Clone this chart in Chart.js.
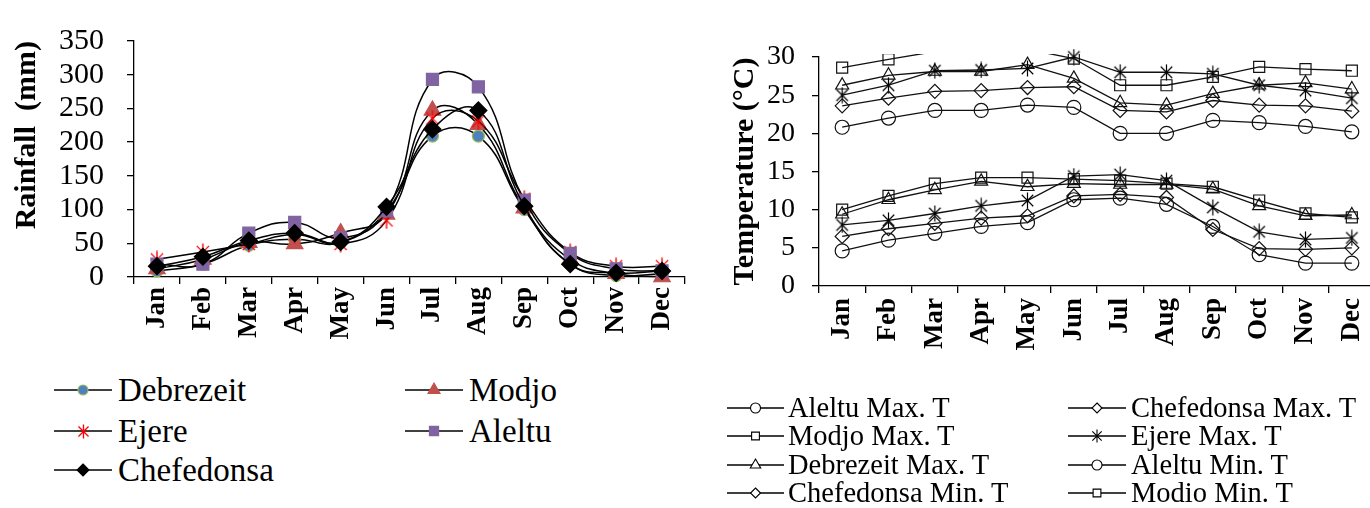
<!DOCTYPE html>
<html>
<head>
<meta charset="utf-8">
<script src="https://cdn.jsdelivr.net/npm/chart.js@4.4.1/dist/chart.umd.min.js"></script>
<style>
html,body{margin:0;padding:0;background:#fff;overflow:hidden;}
#wrap{position:relative;width:1370px;height:508px;overflow:hidden;background:#fff;font-family:"Liberation Serif","Times New Roman",Times,serif;color:#000;}
.box{position:absolute;}
.leg{position:absolute;display:flex;align-items:center;white-space:nowrap;line-height:1;font-family:"Liberation Serif","Times New Roman",Times,serif;}
.leg canvas{display:block;flex:none;}
</style>
</head>
<body>
<div id="wrap">
  <div class="box" style="left:0;top:0;"><canvas id="rain" width="700" height="372" style="width:700px;height:372px"></canvas></div>
  <div class="box" style="left:700px;top:0;"><canvas id="temp" width="690" height="395" style="width:690px;height:395px"></canvas></div>
  <div id="legends"></div>
</div>
<script>
// ---------- DATA ----------
const months = ['Jan','Feb','Mar','Apr','May','Jun','Jul','Aug','Sep','Oct','Nov','Dec'];
const rainTicks = [0,50,100,150,200,250,300,350];
const tempTicks = [0,5,10,15,20,25,30];

const rainDebrezeit  = [9, 19, 47, 56, 51, 98, 209, 209, 100, 19, 2, 5];
const rainModjo      = [12, 26, 51, 49, 65, 93, 247, 226, 102, 26, 5, 0];
const rainEjere      = [26, 37, 49, 63, 49, 84, 235, 231, 116, 37, 16, 16];
const rainAleltu     = [19, 19, 65, 81, 58, 98, 293, 282, 114, 35, 12, 9];
const rainChefedonsa = [16, 30, 54, 65, 52, 104, 219, 247, 105, 19, 6, 9];

const aleltuMax     = [20.8, 22.0, 23.0, 23.0, 23.7, 23.4, 20.0, 20.0, 21.7, 21.4, 20.9, 20.2];
const chefedonsaMax = [23.6, 24.6, 25.5, 25.6, 26.0, 26.1, 23.0, 22.8, 24.3, 23.7, 23.6, 22.9];
const modjoMax      = [28.6, 29.7, 30.7, 31.0, 31.0, 29.8, 26.3, 26.3, 27.4, 28.7, 28.4, 28.2];
const ejereMax      = [25.0, 26.3, 28.2, 28.3, 28.5, 30.0, 28.0, 28.0, 27.8, 26.3, 25.6, 24.6];
const debrezeitMax  = [26.3, 27.6, 28.1, 28.1, 29.0, 27.2, 24.0, 23.7, 25.2, 26.3, 26.6, 25.8];
const aleltuMin     = [4.6, 6.0, 6.9, 7.8, 8.3, 11.3, 11.5, 10.7, 7.8, 4.1, 3.0, 3.0];
const chefedonsaMin = [6.5, 7.5, 8.2, 8.9, 9.2, 11.8, 12.0, 11.6, 7.4, 4.9, 4.8, 5.0];
const modjoMin      = [10.0, 11.8, 13.4, 14.2, 14.2, 14.0, 13.8, 13.4, 13.0, 11.2, 9.5, 9.0];
const ejereMin      = [8.0, 8.6, 9.5, 10.5, 11.2, 14.4, 14.6, 13.8, 10.3, 7.1, 6.1, 6.3];
const debrezeitMin  = [9.4, 11.3, 12.6, 13.7, 13.0, 13.4, 13.3, 13.3, 12.7, 10.5, 9.2, 9.3];

// ---------- STYLE ----------
const FONT = '"Liberation Serif","Times New Roman",Times,serif';

function makeAsterisk(size, color, lw) {
  const c = document.createElement('canvas');
  c.width = size; c.height = size;
  const g = c.getContext('2d');
  g.strokeStyle = color; g.lineWidth = lw; g.lineCap = 'butt';
  const h = size / 2, a = size / 2 - 0.5, d = a * 0.72;
  g.beginPath();
  g.moveTo(h, h - a); g.lineTo(h, h + a);
  g.moveTo(h - d, h - d); g.lineTo(h + d, h + d);
  g.moveTo(h - d, h + d); g.lineTo(h + d, h - d);
  g.stroke();
  return c;
}
const starRed = makeAsterisk(18, '#FF0000', 1.4);
const starBlack = makeAsterisk(17, '#000000', 1.2);
const starRedSmall = makeAsterisk(15, '#FF0000', 1.3);
const starBlackSmall = makeAsterisk(14, '#000000', 1.1);

const rainSeries = [
  {label:'Debrezeit',  data:rainDebrezeit,  style:'circle',   r:6,   bg:'#4F81BD', bd:'#9BBB59', order:5, legR:5,  legStyle:'circle'},
  {label:'Modjo',      data:rainModjo,      style:'triangle', r:9.5, bg:'#C0504D', bd:'#C0504D', order:4, legR:7,  legStyle:'triangle'},
  {label:'Ejere',      data:rainEjere,      style:starRed,    r:8,   bg:'#FF0000', bd:'#FF0000', order:3, legR:7,  legStyle:starRedSmall},
  {label:'Aleltu',     data:rainAleltu,     style:'rect',     r:8.5, bg:'#8064A2', bd:'#8064A2', order:2, legR:6.5,legStyle:'rect'},
  {label:'Chefedonsa', data:rainChefedonsa, style:'rectRot',  r:8.5, bg:'#000000', bd:'#000000', order:1, legR:6,  legStyle:'rectRot'}
];

const tempSeries = [
  {label:'Aleltu Max. T',     data:aleltuMax,     style:'circle',   r:7,   legStyle:'circle',   legR:5},
  {label:'Chefedonsa Max. T', data:chefedonsaMax, style:'rectRot',  r:7,   legStyle:'rectRot',  legR:5},
  {label:'Modjo Max. T',      data:modjoMax,      style:'rect',     r:7.8, legStyle:'rect',     legR:5.5},
  {label:'Ejere Max. T',      data:ejereMax,      style:starBlack,  r:8,   legStyle:starBlackSmall, legR:7},
  {label:'Debrezeit Max. T',  data:debrezeitMax,  style:'triangle', r:7.5, legStyle:'triangle', legR:6},
  {label:'Aleltu Min. T',     data:aleltuMin,     style:'circle',   r:7,   legStyle:'circle',   legR:5},
  {label:'Chefedonsa Min. T', data:chefedonsaMin, style:'rectRot',  r:7,   legStyle:'rectRot',  legR:5},
  {label:'Modio Min. T',      data:modjoMin,      style:'rect',     r:7.8, legStyle:'rect',     legR:5.5},
  {label:'Ejere Min. T',      data:ejereMin,      style:starBlack,  r:8,   legStyle:starBlackSmall, legR:7, hidden:true},
  {label:'Debrezeit Min. T',  data:debrezeitMin,  style:'triangle', r:7.5, legStyle:'triangle', legR:6, hidden:true}
];

// ---------- LEFT CHART ----------
const rainChart = new Chart(document.getElementById('rain'), {
  type: 'line',
  data: {
    labels: months,
    datasets: rainSeries.map(s => ({
      label: s.label, data: s.data, order: s.order,
      borderColor: '#000', borderWidth: 1.5, tension: 0.45, fill: false, clip: false,
      pointStyle: s.style, pointRadius: s.r, pointHoverRadius: s.r,
      pointBackgroundColor: s.bg, pointBorderColor: s.bd, pointBorderWidth: 1.2
    }))
  },
  options: {
    responsive: false, animation: false, events: [],
    layout: {padding: {left: 0, right: 15, top: 26, bottom: 0}},
    plugins: {legend: {display: false}, tooltip: {enabled: false}},
    scales: {
      x: {
        type: 'category', offset: true,
        grid: {offset: true, drawOnChartArea: false, drawTicks: true, tickLength: 7, color: '#000', lineWidth: 1.3},
        border: {color: '#000', width: 1.3},
        ticks: {color: '#000', autoSkip: false, maxRotation: 90, minRotation: 90, padding: 3,
                font: {family: FONT, size: 27, weight: 'bold'}},
        afterFit(s) { s.height = 372 - 277; }
      },
      y: {
        min: 0, max: 350,
        afterBuildTicks(s) { s.ticks = rainTicks.map(v => ({value: v})); },
        grid: {drawOnChartArea: false, drawTicks: true, tickLength: 7, color: '#000', lineWidth: 1.3},
        border: {color: '#000', width: 1.3},
        ticks: {color: '#000', autoSkip: false, padding: 23, font: {family: FONT, size: 30}},
        title: {display: true, text: 'Rainfall  (mm)', align: 'end', color: '#000',
                font: {family: FONT, size: 30, weight: 'bold'}, padding: {top: 9, bottom: 0}},
        afterFit(s) { s.width = 134; }
      }
    }
  }
});

// ---------- RIGHT CHART ----------
const tempChart = new Chart(document.getElementById('temp'), {
  type: 'line',
  data: {
    labels: months,
    datasets: tempSeries.map(s => ({
      label: s.label, data: s.data,
      borderColor: '#111', borderWidth: 1.3, tension: 0, fill: false,
      clip: s.data === modjoMax ? {left: 10, top: 3, right: 10, bottom: 10} : 12,
      pointStyle: s.style,
      pointRadius: ctx => (ctx.raw > 30 ? 0 : s.r),
      pointHoverRadius: s.r,
      pointBackgroundColor: 'rgba(255,255,255,0)', pointBorderColor: '#111', pointBorderWidth: 1.2
    }))
  },
  options: {
    responsive: false, animation: false, events: [],
    layout: {padding: {left: 0, right: 15, top: 57, bottom: 0}},
    plugins: {legend: {display: false}, tooltip: {enabled: false}},
    scales: {
      x: {
        type: 'category', offset: true,
        grid: {offset: true, drawOnChartArea: false, drawTicks: true, tickLength: 7, color: '#000', lineWidth: 1.3},
        border: {color: '#000', width: 1.3},
        ticks: {color: '#000', autoSkip: false, maxRotation: 90, minRotation: 90, padding: 5,
                font: {family: FONT, size: 27, weight: 'bold'}},
        afterFit(s) { s.height = 395 - 286; }
      },
      y: {
        min: 0, max: 30,
        afterBuildTicks(s) { s.ticks = tempTicks.map(v => ({value: v})); },
        grid: {drawOnChartArea: false, drawTicks: true, tickLength: 7, color: '#000', lineWidth: 1.3},
        border: {color: '#000', width: 1.3},
        ticks: {color: '#000', autoSkip: false, padding: 17, font: {family: FONT, size: 28}},
        title: {display: true, text: 'Temperature (°C)', color: '#000',
                font: {family: FONT, size: 30, weight: 'bold'}, padding: {top: 27, bottom: 0}},
        afterFit(s) { s.width = 119; }
      }
    }
  }
});

// ---------- LEGENDS (HTML, markers drawn on small canvases) ----------
function drawMarker(g, style, x, y, r, fill, stroke, lw) {
  if (style instanceof HTMLCanvasElement) { g.drawImage(style, Math.round(x - style.width / 2), Math.round(y - style.height / 2)); return; }
  g.beginPath();
  if (style === 'circle') g.arc(x, y, r, 0, Math.PI * 2);
  else if (style === 'rect') { const s = r * Math.SQRT1_2; g.rect(x - s, y - s, 2 * s, 2 * s); }
  else if (style === 'rectRot') { g.moveTo(x, y - r); g.lineTo(x + r, y); g.lineTo(x, y + r); g.lineTo(x - r, y); g.closePath(); }
  else if (style === 'triangle') {
    let a = 0;
    g.moveTo(x + Math.sin(a) * r, y - Math.cos(a) * r); a += 2 * Math.PI / 3;
    g.lineTo(x + Math.sin(a) * r, y - Math.cos(a) * r); a += 2 * Math.PI / 3;
    g.lineTo(x + Math.sin(a) * r, y - Math.cos(a) * r); g.closePath();
  }
  if (fill) { g.fillStyle = fill; g.fill(); }
  if (stroke) { g.strokeStyle = stroke; g.lineWidth = lw; g.stroke(); }
}

function legendItem(parent, s, left, cy, w, gap, fontSize, fill, stroke) {
  const h = 30;
  const div = document.createElement('div');
  div.className = 'leg';
  div.style.left = left + 'px';
  div.style.top = (cy - h / 2) + 'px';
  div.style.height = h + 'px';
  const c = document.createElement('canvas');
  c.width = w; c.height = h;
  const g = c.getContext('2d');
  g.strokeStyle = '#000'; g.lineWidth = 1.4;
  g.beginPath(); g.moveTo(0, h / 2); g.lineTo(w, h / 2); g.stroke();
  drawMarker(g, s.legStyle, w / 2, h / 2, s.legR, fill, stroke, 1.1);
  div.appendChild(c);
  const t = document.createElement('span');
  t.textContent = s.label;
  t.style.fontSize = fontSize + 'px';
  t.style.marginLeft = gap + 'px';
  div.appendChild(t);
  parent.appendChild(div);
}

const legRoot = document.getElementById('legends');
// left legend: two columns, row-major
const rainCols = [54, 405], rainRows = [390, 431, 470];
rainSeries.forEach((s, i) => {
  const col = i % 2, row = Math.floor(i / 2);
  legendItem(legRoot, s, rainCols[col], rainRows[row], 58, 6, 33, s.bg, s.bd);
});
// right legend: first eight series, two columns, row-major
const tempCols = [727, 1068], tempRows = [408, 436, 465, 493];
tempSeries.filter(s => !s.hidden).forEach((s, i) => {
  const col = i % 2, row = Math.floor(i / 2);
  legendItem(legRoot, s, tempCols[col], tempRows[row], col ? 58 : 57, col ? 5 : 4, 28.5, 'rgba(255,255,255,1)', '#000');
});
</script>
</body>
</html>
